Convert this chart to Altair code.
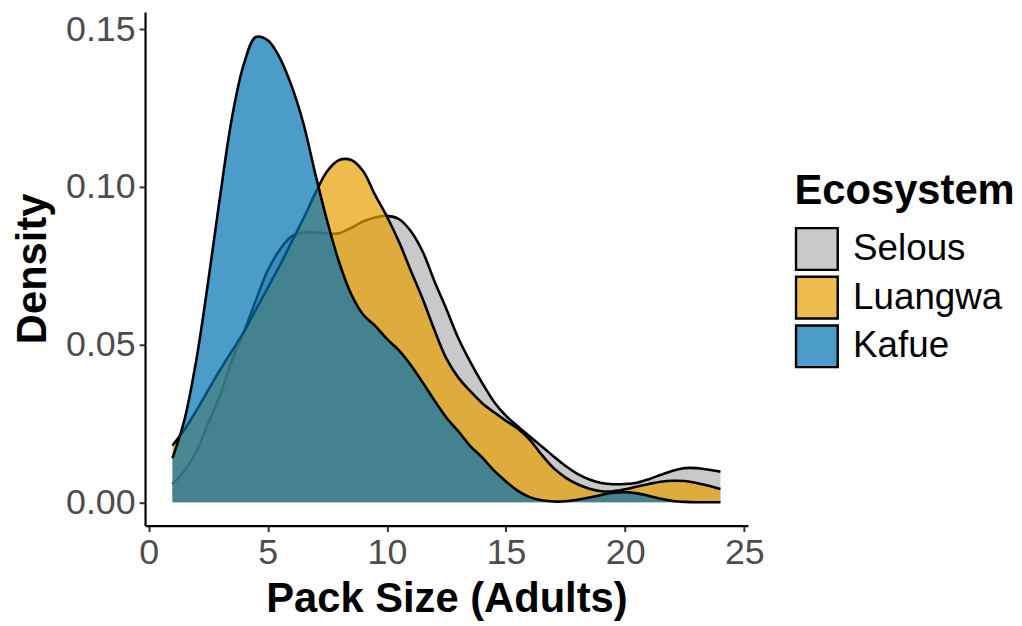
import altair as alt
import pandas as pd

# Pack size grid (adults)
pack_size = [1.0, 1.5, 2.0, 2.5, 3.0, 3.5, 4.0, 4.5, 5.0, 5.5, 6.0, 6.5, 7.0, 7.5,
             8.0, 8.5, 9.0, 9.5, 10.0, 10.5, 11.0, 11.5, 12.0, 12.5, 13.0, 13.5,
             14.0, 14.5, 15.0, 15.5, 16.0, 16.5, 17.0, 17.5, 18.0, 18.5, 19.0,
             19.5, 20.0, 20.5, 21.0, 21.5, 22.0, 22.5, 23.0, 23.5, 24.0]

selous = [0.0057, 0.0100, 0.0160, 0.0250, 0.0340, 0.0450, 0.0540, 0.0640, 0.0735,
          0.0800, 0.0843, 0.0855, 0.0856, 0.0852, 0.0853, 0.0870, 0.0890, 0.0903,
          0.0908, 0.0898, 0.0860, 0.0795, 0.0700, 0.0612, 0.0520, 0.0445, 0.0378,
          0.0318, 0.0274, 0.0240, 0.0208, 0.0177, 0.0145, 0.0115, 0.0090, 0.0072,
          0.0061, 0.0057, 0.0058, 0.0062, 0.0073, 0.0087, 0.0100, 0.0108, 0.0108,
          0.0103, 0.0097]

luangwa = [0.0180, 0.0230, 0.0290, 0.0355, 0.0420, 0.0480, 0.0540, 0.0610, 0.0680,
           0.0750, 0.0825, 0.0900, 0.0980, 0.1050, 0.1085, 0.1085, 0.1050, 0.0975,
           0.0906, 0.0827, 0.0735, 0.0645, 0.0545, 0.0455, 0.0395, 0.0352, 0.0314,
           0.0285, 0.0258, 0.0233, 0.0198, 0.0150, 0.0108, 0.0078, 0.0057, 0.0043,
           0.0035, 0.0035, 0.0041, 0.0050, 0.0058, 0.0065, 0.0068, 0.0067, 0.0061,
           0.0052, 0.0042]

kafue = [0.0140, 0.0260, 0.0450, 0.0700, 0.0970, 0.1220, 0.1390, 0.1475, 0.1465,
         0.1410, 0.1320, 0.1200, 0.1040, 0.0890, 0.0760, 0.0660, 0.0595, 0.0560,
         0.0518, 0.0482, 0.0435, 0.0380, 0.0322, 0.0268, 0.0225, 0.0178, 0.0142,
         0.0100, 0.0066, 0.0036, 0.0016, 0.0006, 0.0002, 0.0003, 0.0008, 0.0015,
         0.0023, 0.0030, 0.0032, 0.0028, 0.0020, 0.0011, 0.0004, 0.0001, 0.0000,
         0.0000, 0.0000]

ecosystems = ["Selous", "Luangwa", "Kafue"]
colors = ["#B2B2B2", "#E69F00", "#0072B2"]          # fills drawn at 70% alpha
legend_colors = ["#C9C9C9", "#EDBC4C", "#4C9CC9"]   # the same fills as seen on white
x_ticks = [0, 5, 10, 15, 20, 25]
y_ticks = [0.0, 0.05, 0.10, 0.15]

rows = []
for name, vals in zip(ecosystems, [selous, luangwa, kafue]):
    for xv, yv in zip(pack_size, vals):
        rows.append({"eco": name, "size": xv, "density": yv})
df = pd.DataFrame(rows)

FONT = "Liberation Sans"

x_enc = alt.X(
    "size:Q",
    scale=alt.Scale(domain=[-0.15, 25.15], nice=False, zero=False),
    axis=alt.Axis(values=x_ticks, title="Pack Size (Adults)", titleY=87,
                  titleBaseline="alphabetic", labelPadding=4),
)
y_enc = alt.Y(
    "density:Q",
    scale=alt.Scale(domain=[-0.0074, 0.1554], nice=False, zero=False),
    axis=alt.Axis(values=y_ticks, format=".2f", title="Density", titleAngle=270,
                  titleX=-113, titleY=258, titleAlign="center",
                  titleBaseline="middle", labelPadding=4),
)
fill_enc = alt.Fill("eco:N", scale=alt.Scale(domain=ecosystems, range=colors), legend=None)

base = alt.Chart(df)
layers = []

# legend-only layer: invisible marks, the legend is drawn from the scale
legend_layer = base.mark_square(filled=True, opacity=0).encode(
    x=x_enc, y=y_enc,
    color=alt.Color(
        "eco:N",
        scale=alt.Scale(domain=ecosystems, range=legend_colors),
        legend=alt.Legend(
            title="Ecosystem", orient="none", legendX=654, legendY=160,
            symbolType="square", symbolSize=1764, symbolStrokeColor="black",
            symbolStrokeWidth=2.4, symbolOpacity=1, rowPadding=-5, labelOffset=14,
            titlePadding=14, padding=0, titleLimit=500, labelLimit=400,
        ),
    ),
)
layers.append(legend_layer)

for name in ecosystems:
    sub = base.transform_filter(alt.datum.eco == name)
    area = sub.mark_area(interpolate="catmull-rom", opacity=0.7).encode(
        x=x_enc, y=y_enc, y2=alt.datum(0), fill=fill_enc
    )
    line = sub.mark_line(interpolate="catmull-rom", color="black", strokeWidth=2.6).encode(
        x=x_enc, y=y_enc
    )
    layers += [area, line]

chart = alt.layer(*layers).properties(
    width=607, height=517,
    autosize=alt.AutoSizeParams(type="none"),
    padding={"left": 138, "top": 2, "right": 268, "bottom": 99},
).resolve_scale(color="independent", fill="independent").configure_view(stroke=None).configure_axis(
    grid=False, domainColor="black", domainWidth=2.2, tickColor="#333333",
    tickWidth=2, tickSize=6, labelColor="#4D4D4D", labelFontSize=36,
    labelFont=FONT, titleFont=FONT, titleFontSize=42, titleFontWeight="bold",
    titleColor="black",
).configure_legend(
    titleFont=FONT, labelFont=FONT, titleFontSize=42, titleFontWeight="bold",
    titleColor="black", labelFontSize=37, labelColor="black",
)

chart.save("out.html", embed_options={"renderer": "svg", "actions": False})
